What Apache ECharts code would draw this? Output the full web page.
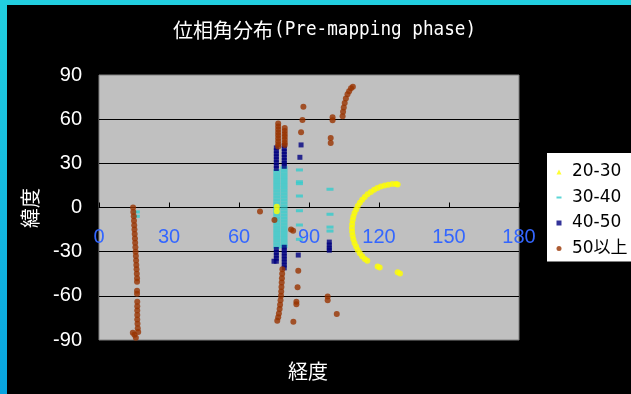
<!DOCTYPE html>
<html>
<head>
<meta charset="utf-8">
<script src="https://cdn.jsdelivr.net/npm/echarts@6/dist/echarts.min.js"></script>
<style>
  html, body { margin: 0; padding: 0; background: #000; }
  #chart { width: 631px; height: 394px; }
</style>
</head>
<body>
<div id="chart"></div>
<script>
const seriesNames = ['20-30', '30-40', '40-50', '50以上']
const seriesColors = ['#FFFF00', '#33CCCC', '#000080', '#993300']

// [longitude, latitude]
const pts2030 = [
  [76.2, 0.5], [76.2, -2.5],
  [128.0, 15.6], [127.3, 16.0], [125.7, 15.9], [124.0, 15.5], [122.4, 15.0], [120.8, 14.2],
  [119.3, 13.2], [117.9, 12.0], [116.5, 10.6], [115.1, 9.0], [113.9, 7.2], [112.8, 5.3],
  [111.8, 3.3], [110.9, 1.1], [110.2, -1.3], [109.5, -3.7], [109.0, -6.2], [108.7, -8.7],
  [108.5, -11.3], [108.4, -13.9], [108.5, -16.5], [108.7, -19.1], [109.0, -21.6], [109.5, -24.1],
  [110.2, -26.5], [110.9, -28.9], [111.8, -31.1], [112.8, -33.1], [113.9, -35.0], [115.0, -36.2],
  [119.4, -40.0], [120.3, -40.8], [128.0, -44.0], [129.0, -44.8]
]
const pts3040 = [
  [76.2, 25], [76.2, 23], [76.2, 21], [76.2, 19], [76.2, 17], [76.2, 15], [76.2, 13], [76.2, 11],
  [76.2, 9], [76.2, 7], [76.2, 5], [76.2, 3], [76.2, 1], [76.2, -1], [76.2, -3], [76.2, -5],
  [76.2, -7], [76.2, -9], [76.2, -11], [76.2, -13], [76.2, -15], [76.2, -17], [76.2, -19],
  [76.2, -21], [76.2, -23], [76.2, -25], [76.2, -27],
  [79.3, 27], [79.3, 25], [79.3, 23], [79.3, 21], [79.3, 19], [79.3, 17], [79.3, 15], [79.3, 13],
  [79.3, 11], [79.3, 9], [79.3, 7], [79.3, 5], [79.3, 3], [79.3, 1], [79.3, -1], [79.3, -3],
  [79.3, -5], [79.3, -7], [79.3, -9], [79.3, -11], [79.3, -13], [79.3, -15], [79.3, -17],
  [79.3, -19], [79.3, -21], [79.3, -23], [79.3, -25], [79.3, -26.5],
  [85.9, 25.5], [85.9, 17.5], [85.9, 16.2], [85.9, 7.8], [85.9, -2.2], [85.9, -11.9], [85.9, -21.6],
  [99.0, 12.4], [99.0, -4.6], [99.0, -13.3], [99.0, -16.0],
  [16.0, -3], [16.0, -6]
]
const pts4050 = [
  [76.0, 40.5], [76.0, 38.5], [76.0, 36.5], [76.0, 34.5], [76.0, 32.5], [76.0, 30.5], [76.0, 28.5], [76.0, 26.5],
  [76.0, -28.5], [76.0, -30.5], [76.0, -32.5], [76.0, -34.5], [76.0, -36.5], [75.0, -36.5],
  [79.4, 42], [79.4, 40], [79.4, 38], [79.4, 36], [79.4, 34], [79.4, 32], [79.4, 30], [79.4, 28],
  [79.4, -27], [79.4, -29], [79.4, -31], [79.4, -33], [79.4, -35], [79.4, -37], [79.4, -39], [79.4, -41],
  [86.6, 42.5], [86.1, 34.1], [85.4, -32.3],
  [98.7, -23.5], [98.7, -25.5], [98.7, -27.5], [98.7, -29]
]
const pts50up = [
  [14.6, 0], [14.7, -3], [14.9, -6], [15.0, -9], [15.1, -12], [15.2, -15], [15.3, -18], [15.4, -21],
  [15.5, -24], [15.6, -27], [15.7, -30], [15.8, -33], [15.9, -36], [16.0, -39], [16.1, -42],
  [16.2, -45], [16.3, -48], [16.3, -50.5], [16.3, -56.5], [16.3, -58.5], [16.4, -64], [16.4, -67],
  [16.4, -70], [16.4, -73], [16.4, -76], [16.5, -79], [16.6, -82], [16.8, -84.5], [14.5, -85],
  [15.2, -86.5], [15.8, -88.5],
  [76.8, 57], [76.8, 55], [76.8, 53], [76.8, 51], [76.8, 49], [76.8, 47], [76.8, 45], [76.8, 43], [76.8, 41.5],
  [79.6, 54], [79.6, 52], [79.6, 50], [79.6, 48], [79.6, 46], [79.6, 44], [79.6, 42.5],
  [78.6, -42], [78.5, -45], [78.4, -48], [78.3, -51], [78.2, -54], [78.1, -57], [78.0, -60],
  [77.8, -63], [77.6, -66], [77.4, -69], [77.1, -72], [76.8, -74.5], [76.4, -77],
  [69.0, -2.8], [75.2, -8.5], [82.3, -15.0], [83.2, -15.8],
  [87.6, 68.5], [87.2, 59.4], [86.6, 51.1], [85.4, -42.9], [85.1, -54.2], [84.6, -64.0], [84.6, -65.8], [83.3, -77.6],
  [100.1, 61.3], [100.1, 59.3], [99.3, 47.2], [99.3, 43.8],
  [104.4, 62], [104.6, 65], [104.9, 68], [105.3, 71], [105.8, 74], [106.5, 77], [107.2, 79], [108.0, 81], [108.8, 82],
  [98.0, -60.5], [98.0, -63], [101.9, -72.4]
]

const labelFont = "'Liberation Sans', Arial, sans-serif"
const cjkFont = "'Noto Sans CJK JP', sans-serif"

const chart = echarts.init(document.getElementById('chart'))

const option = {
  backgroundColor: '#000',
  animation: false,
  graphic: [
    {
      type: 'rect', shape: { x: 0, y: 0, width: 7, height: 394 },
      style: {
        fill: new echarts.graphic.LinearGradient(0, 0, 0, 1, [
          { offset: 0, color: '#22D0E0' }, { offset: 1, color: '#08A4E0' }
        ])
      }
    },
    { type: 'rect', shape: { x: 0, y: 0, width: 631, height: 5 }, style: { fill: '#22CFE0' } },
    // title: kanji part + half-width latin part
    {
      type: 'text', x: 173, y: 30,
      style: { text: '位相角分布', fill: '#fff', font: '20px ' + cjkFont, align: 'left', verticalAlign: 'middle' }
    },
    {
      type: 'text', x: 274, y: 30, scaleX: 0.93,
      style: {
        text: '(Pre-mapping phase)', fill: '#fff', font: "19px 'DejaVu Sans Mono', monospace",
        align: 'left', verticalAlign: 'middle'
      }
    },
    {
      type: 'text', x: 308, y: 371,
      style: { text: '経度', fill: '#fff', font: '20px ' + cjkFont, align: 'center', verticalAlign: 'middle' }
    },
    {
      type: 'text', x: 30.5, y: 208, rotation: Math.PI / 2,
      style: { text: '緯度', fill: '#fff', font: '20px ' + cjkFont, align: 'center', verticalAlign: 'middle' }
    }
  ],
  legend: {
    orient: 'vertical',
    left: 547,
    top: 153,
    backgroundColor: '#fff',
    padding: [9, 30, 3, 9.5],
    itemWidth: 5,
    itemHeight: 5,
    itemGap: 5.5,
    selectedMode: false,
    formatter: name => ' ' + name,
    textStyle: {
      color: '#000', fontSize: 17, lineHeight: 20,
      fontFamily: "'DejaVu Sans', 'Noto Sans CJK JP', sans-serif"
    },
    data: [
      { name: seriesNames[0], icon: 'triangle' },
      { name: seriesNames[1], icon: 'path://M0,0H10V4H0Z' },
      { name: seriesNames[2], icon: 'rect' },
      { name: seriesNames[3], icon: 'circle' }
    ]
  },
  grid: {
    left: 99, top: 75, width: 420, height: 265,
    show: true, backgroundColor: '#C0C0C0', borderColor: '#808080', borderWidth: 1
  },
  xAxis: {
    type: 'value', min: 0, max: 180, interval: 30,
    position: 'bottom',
    offset: -132.5, // sits on latitude 0
    axisLine: { onZero: false, lineStyle: { color: '#000', width: 1 } },
    axisTick: { inside: true, length: 5, lineStyle: { color: '#000' } },
    axisLabel: { color: '#3366FF', fontSize: 20, fontFamily: labelFont, margin: 20 },
    splitLine: { show: false }
  },
  yAxis: {
    type: 'value', min: -90, max: 90, interval: 30,
    axisLine: { show: false },
    axisTick: { show: false },
    axisLabel: { color: '#fff', fontSize: 20, fontFamily: labelFont, margin: 17 },
    splitLine: { show: true, showMinLine: false, showMaxLine: false, lineStyle: { color: '#000', width: 1 } }
  },
  series: [
    {
      name: seriesNames[1], type: 'scatter', data: pts3040, symbol: 'rect', symbolSize: [7, 3],
      itemStyle: { color: seriesColors[1] }, silent: true
    },
    {
      name: seriesNames[2], type: 'scatter', data: pts4050, symbol: 'rect', symbolSize: 5,
      itemStyle: { color: seriesColors[2] }, silent: true
    },
    {
      name: seriesNames[3], type: 'scatter', data: pts50up, symbol: 'circle', symbolSize: 6,
      itemStyle: { color: seriesColors[3] }, silent: true
    },
    {
      name: seriesNames[0], type: 'scatter', data: pts2030, symbol: 'circle', symbolSize: 6,
      itemStyle: { color: seriesColors[0] }, silent: true
    }
  ]
}

chart.setOption(option)
</script>
</body>
</html>
